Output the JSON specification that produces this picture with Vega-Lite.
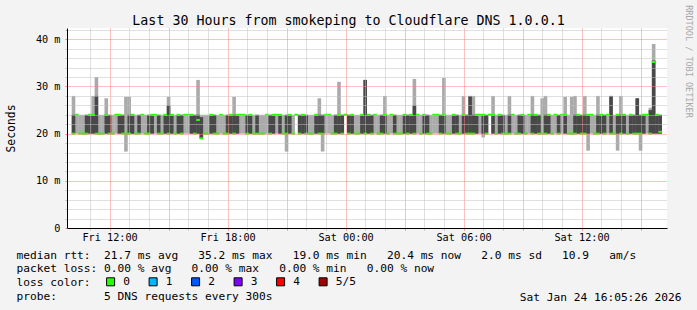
{
"$schema": "https://vega.github.io/schema/vega-lite/v6.json",
"width": 600, "height": 200,
"autosize": {"type": "none"},
"padding": {"left": 67, "top": 28, "right": 30, "bottom": 82},
"background": "#f3f3f3",
"config": {"view": {"stroke": null, "fill": "#ffffff"},
  "axis": {"labelFont": "DejaVu Sans Mono", "titleFont": "DejaVu Sans Mono", "labelColor": "#000000", "titleColor": "#000000", "titleFontWeight": "normal"}},
"data": {"values": [
{"t":"2026-01-23T10:10","lo":20,"q1":20,"md":20,"q3":24,"hi":28,"loss":"0"},
{"t":"2026-01-23T10:20","lo":20,"q1":24,"md":24,"q3":24,"hi":24,"loss":"0"},
{"t":"2026-01-23T10:30","lo":20,"q1":20,"md":20,"q3":20,"hi":24,"loss":"0"},
{"t":"2026-01-23T10:40","lo":20,"q1":20,"md":20,"q3":20,"hi":24,"loss":"0"},
{"t":"2026-01-23T10:50","lo":20,"q1":20,"md":20,"q3":24,"hi":24,"loss":"0"},
{"t":"2026-01-23T11:00","lo":20,"q1":20,"md":24,"q3":24,"hi":24,"loss":"0"},
{"t":"2026-01-23T11:10","lo":20,"q1":20,"md":24,"q3":24,"hi":28,"loss":"0"},
{"t":"2026-01-23T11:20","lo":20,"q1":20,"md":20,"q3":28,"hi":32,"loss":"0"},
{"t":"2026-01-23T11:30","lo":20,"q1":20,"md":20,"q3":20,"hi":24,"loss":"0"},
{"t":"2026-01-23T11:40","lo":20,"q1":20,"md":20,"q3":20,"hi":24,"loss":"0"},
{"t":"2026-01-23T11:50","lo":20,"q1":20,"md":24,"q3":24,"hi":27.5,"loss":"0"},
{"t":"2026-01-23T12:00","lo":20,"q1":20,"md":20,"q3":24,"hi":24,"loss":"0"},
{"t":"2026-01-23T12:10","lo":20,"q1":20,"md":20,"q3":20,"hi":24,"loss":"0"},
{"t":"2026-01-23T12:20","lo":20,"q1":24,"md":24,"q3":24,"hi":24,"loss":"0"},
{"t":"2026-01-23T12:30","lo":20,"q1":20,"md":24,"q3":24,"hi":24,"loss":"0"},
{"t":"2026-01-23T12:40","lo":20,"q1":20,"md":20,"q3":24,"hi":24,"loss":"0"},
{"t":"2026-01-23T12:50","lo":16.2,"q1":20,"md":20,"q3":20,"hi":27.8,"loss":"0"},
{"t":"2026-01-23T13:00","lo":20,"q1":20,"md":20,"q3":24,"hi":27.8,"loss":"0"},
{"t":"2026-01-23T13:10","lo":20,"q1":20,"md":24,"q3":24,"hi":24,"loss":"0"},
{"t":"2026-01-23T13:20","lo":20,"q1":20,"md":20,"q3":20,"hi":24,"loss":"0"},
{"t":"2026-01-23T13:30","lo":20,"q1":20,"md":20,"q3":24,"hi":24,"loss":"0"},
{"t":"2026-01-23T13:40","lo":20,"q1":24,"md":24,"q3":24,"hi":24,"loss":"0"},
{"t":"2026-01-23T13:50","lo":20,"q1":20,"md":20,"q3":20,"hi":24,"loss":"0"},
{"t":"2026-01-23T14:00","lo":20,"q1":20,"md":20,"q3":24,"hi":24,"loss":"0"},
{"t":"2026-01-23T14:10","lo":20,"q1":20,"md":24,"q3":24,"hi":24,"loss":"0"},
{"t":"2026-01-23T14:20","lo":20,"q1":24,"md":24,"q3":24,"hi":24,"loss":"0"},
{"t":"2026-01-23T14:30","lo":20,"q1":20,"md":20,"q3":24,"hi":24,"loss":"0"},
{"t":"2026-01-23T14:40","lo":20,"q1":20,"md":20,"q3":20,"hi":24,"loss":"0"},
{"t":"2026-01-23T14:50","lo":20,"q1":20,"md":24,"q3":24,"hi":24,"loss":"0"},
{"t":"2026-01-23T15:00","lo":20,"q1":20,"md":20,"q3":26,"hi":27.8,"loss":"0"},
{"t":"2026-01-23T15:10","lo":20,"q1":20,"md":24,"q3":24,"hi":24,"loss":"0"},
{"t":"2026-01-23T15:20","lo":20,"q1":20,"md":20,"q3":20,"hi":24,"loss":"0"},
{"t":"2026-01-23T15:30","lo":20,"q1":20,"md":24,"q3":24,"hi":24,"loss":"0"},
{"t":"2026-01-23T15:40","lo":20,"q1":20,"md":20,"q3":24,"hi":24,"loss":"0"},
{"t":"2026-01-23T15:50","lo":20,"q1":24,"md":24,"q3":24,"hi":24,"loss":"0"},
{"t":"2026-01-23T16:00","lo":20,"q1":24,"md":24,"q3":24,"hi":24,"loss":"0"},
{"t":"2026-01-23T16:10","lo":20,"q1":20,"md":24,"q3":24,"hi":24,"loss":"0"},
{"t":"2026-01-23T16:20","lo":20,"q1":20,"md":20,"q3":24,"hi":24,"loss":"0"},
{"t":"2026-01-23T16:30","lo":20,"q1":20,"md":22.9,"q3":24,"hi":31.4,"loss":"0"},
{"t":"2026-01-23T16:40","lo":19,"q1":19,"md":19,"q3":23.5,"hi":24,"loss":"0"},
{"t":"2026-01-23T16:50","lo":20,"q1":20,"md":20,"q3":20,"hi":24,"loss":"0"},
{"t":"2026-01-23T17:00","lo":20,"q1":20,"md":20,"q3":20,"hi":24,"loss":"0"},
{"t":"2026-01-23T17:10","lo":20,"q1":20,"md":24,"q3":24,"hi":24,"loss":"0"},
{"t":"2026-01-23T17:20","lo":20,"q1":20,"md":20,"q3":24,"hi":24,"loss":"0"},
{"t":"2026-01-23T17:30","lo":20,"q1":20,"md":20,"q3":20,"hi":24,"loss":"0"},
{"t":"2026-01-23T17:40","lo":20,"q1":24,"md":24,"q3":24,"hi":24,"loss":"0"},
{"t":"2026-01-23T17:50","lo":20,"q1":20,"md":20,"q3":20,"hi":24,"loss":"0"},
{"t":"2026-01-23T18:00","lo":20,"q1":20,"md":20,"q3":24,"hi":24,"loss":"0"},
{"t":"2026-01-23T18:10","lo":20,"q1":20,"md":24,"q3":24,"hi":24,"loss":"0"},
{"t":"2026-01-23T18:20","lo":20,"q1":20,"md":20,"q3":24,"hi":27.8,"loss":"0"},
{"t":"2026-01-23T18:30","lo":20,"q1":20,"md":24,"q3":24,"hi":24,"loss":"0"},
{"t":"2026-01-23T18:40","lo":20,"q1":24,"md":24,"q3":24,"hi":24,"loss":"0"},
{"t":"2026-01-23T18:50","lo":20,"q1":24,"md":24,"q3":24,"hi":24,"loss":"0"},
{"t":"2026-01-23T19:00","lo":20,"q1":20,"md":20,"q3":24,"hi":24,"loss":"0"},
{"t":"2026-01-23T19:10","lo":20,"q1":20,"md":24,"q3":24,"hi":24,"loss":"0"},
{"t":"2026-01-23T19:20","lo":20,"q1":20,"md":20,"q3":20,"hi":24,"loss":"0"},
{"t":"2026-01-23T19:30","lo":20,"q1":20,"md":20,"q3":24,"hi":24,"loss":"0"},
{"t":"2026-01-23T19:40","lo":20,"q1":20,"md":20,"q3":20,"hi":24,"loss":"0"},
{"t":"2026-01-23T19:50","lo":20,"q1":20,"md":20,"q3":20,"hi":24,"loss":"0"},
{"t":"2026-01-23T20:00","lo":20,"q1":24,"md":24,"q3":24,"hi":24,"loss":"0"},
{"t":"2026-01-23T20:10","lo":20,"q1":20,"md":20,"q3":24,"hi":24,"loss":"0"},
{"t":"2026-01-23T20:20","lo":20,"q1":20,"md":24,"q3":24,"hi":24,"loss":"0"},
{"t":"2026-01-23T20:30","lo":20,"q1":24,"md":24,"q3":24,"hi":24,"loss":"0"},
{"t":"2026-01-23T20:40","lo":20,"q1":20,"md":24,"q3":24,"hi":24,"loss":"0"},
{"t":"2026-01-23T20:50","lo":20,"q1":20,"md":20,"q3":20,"hi":24,"loss":"0"},
{"t":"2026-01-23T21:00","lo":16.2,"q1":20,"md":20,"q3":24,"hi":24,"loss":"0"},
{"t":"2026-01-23T21:10","lo":20,"q1":20,"md":24,"q3":24,"hi":24,"loss":"0"},
{"t":"2026-01-23T21:20","lo":20,"q1":20,"md":20,"q3":20,"hi":24,"loss":"0"},
{"t":"2026-01-23T21:30","lo":23.8,"q1":24,"md":24,"q3":24,"hi":24.2,"loss":"0"},
{"t":"2026-01-23T21:40","lo":20,"q1":20,"md":20,"q3":24,"hi":24,"loss":"0"},
{"t":"2026-01-23T21:50","lo":20,"q1":20,"md":24,"q3":24,"hi":24,"loss":"0"},
{"t":"2026-01-23T22:00","lo":20,"q1":20,"md":20,"q3":24,"hi":24,"loss":"0"},
{"t":"2026-01-23T22:10","lo":20,"q1":20,"md":20,"q3":20,"hi":24,"loss":"0"},
{"t":"2026-01-23T22:20","lo":20,"q1":20,"md":20,"q3":20,"hi":24,"loss":"0"},
{"t":"2026-01-23T22:30","lo":20,"q1":20,"md":24,"q3":24,"hi":24,"loss":"0"},
{"t":"2026-01-23T22:40","lo":20,"q1":20,"md":20,"q3":24,"hi":27.5,"loss":"0"},
{"t":"2026-01-23T22:50","lo":16.2,"q1":20,"md":20,"q3":24,"hi":24,"loss":"0"},
{"t":"2026-01-23T23:00","lo":20,"q1":24,"md":24,"q3":24,"hi":24,"loss":"0"},
{"t":"2026-01-23T23:10","lo":20,"q1":24,"md":24,"q3":24,"hi":24,"loss":"0"},
{"t":"2026-01-23T23:20","lo":20,"q1":20,"md":20,"q3":20,"hi":24,"loss":"0"},
{"t":"2026-01-23T23:30","lo":20,"q1":20,"md":20,"q3":24,"hi":24,"loss":"0"},
{"t":"2026-01-23T23:40","lo":20,"q1":20,"md":24,"q3":24,"hi":31,"loss":"0"},
{"t":"2026-01-23T23:50","lo":20,"q1":20,"md":20,"q3":24,"hi":24,"loss":"0"},
{"t":"2026-01-24T00:00","lo":23.8,"q1":24,"md":24,"q3":24,"hi":24.2,"loss":"0"},
{"t":"2026-01-24T00:10","lo":20,"q1":20,"md":20,"q3":24,"hi":24,"loss":"0"},
{"t":"2026-01-24T00:20","lo":20,"q1":20,"md":24,"q3":24,"hi":24,"loss":"0"},
{"t":"2026-01-24T00:30","lo":20,"q1":20,"md":20,"q3":20,"hi":24,"loss":"0"},
{"t":"2026-01-24T00:40","lo":20,"q1":20,"md":20,"q3":20,"hi":24,"loss":"0"},
{"t":"2026-01-24T00:50","lo":20,"q1":20,"md":24,"q3":24,"hi":24,"loss":"0"},
{"t":"2026-01-24T01:00","lo":20,"q1":20,"md":20,"q3":31.4,"hi":31.4,"loss":"0"},
{"t":"2026-01-24T01:10","lo":20,"q1":20,"md":24,"q3":24,"hi":24,"loss":"0"},
{"t":"2026-01-24T01:20","lo":20,"q1":20,"md":20,"q3":24,"hi":24,"loss":"0"},
{"t":"2026-01-24T01:30","lo":20,"q1":24,"md":24,"q3":24,"hi":24,"loss":"0"},
{"t":"2026-01-24T01:40","lo":20,"q1":20,"md":20,"q3":20,"hi":24,"loss":"0"},
{"t":"2026-01-24T01:50","lo":20,"q1":20,"md":20,"q3":24,"hi":24,"loss":"0"},
{"t":"2026-01-24T02:00","lo":20,"q1":20,"md":24,"q3":24,"hi":28,"loss":"0"},
{"t":"2026-01-24T02:10","lo":20,"q1":20,"md":20,"q3":20,"hi":24,"loss":"0"},
{"t":"2026-01-24T02:20","lo":20,"q1":24,"md":24,"q3":24,"hi":24,"loss":"0"},
{"t":"2026-01-24T02:30","lo":20,"q1":20,"md":20,"q3":24,"hi":24,"loss":"0"},
{"t":"2026-01-24T02:40","lo":20,"q1":20,"md":20,"q3":20,"hi":24,"loss":"0"},
{"t":"2026-01-24T02:50","lo":20,"q1":20,"md":20,"q3":20,"hi":24,"loss":"0"},
{"t":"2026-01-24T03:00","lo":20,"q1":20,"md":24,"q3":24,"hi":24,"loss":"0"},
{"t":"2026-01-24T03:10","lo":20,"q1":20,"md":20,"q3":24,"hi":24,"loss":"0"},
{"t":"2026-01-24T03:20","lo":20,"q1":20,"md":24,"q3":24,"hi":24,"loss":"0"},
{"t":"2026-01-24T03:30","lo":20,"q1":20,"md":20,"q3":26,"hi":31.6,"loss":"0"},
{"t":"2026-01-24T03:40","lo":20,"q1":24,"md":24,"q3":24,"hi":24,"loss":"0"},
{"t":"2026-01-24T03:50","lo":20,"q1":20,"md":20,"q3":20,"hi":24,"loss":"0"},
{"t":"2026-01-24T04:00","lo":20,"q1":20,"md":24,"q3":24,"hi":24,"loss":"0"},
{"t":"2026-01-24T04:10","lo":20,"q1":20,"md":20,"q3":24,"hi":24,"loss":"0"},
{"t":"2026-01-24T04:20","lo":20,"q1":20,"md":20,"q3":20,"hi":24,"loss":"0"},
{"t":"2026-01-24T04:30","lo":20,"q1":24,"md":24,"q3":24,"hi":24,"loss":"0"},
{"t":"2026-01-24T04:40","lo":20,"q1":24,"md":24,"q3":24,"hi":24,"loss":"0"},
{"t":"2026-01-24T04:50","lo":20,"q1":20,"md":20,"q3":24,"hi":24,"loss":"0"},
{"t":"2026-01-24T05:00","lo":20,"q1":20,"md":24,"q3":24,"hi":31.8,"loss":"0"},
{"t":"2026-01-24T05:10","lo":20,"q1":20,"md":20,"q3":20,"hi":24,"loss":"0"},
{"t":"2026-01-24T05:20","lo":20,"q1":20,"md":20,"q3":20,"hi":24,"loss":"0"},
{"t":"2026-01-24T05:30","lo":20,"q1":20,"md":24,"q3":24,"hi":24,"loss":"0"},
{"t":"2026-01-24T05:40","lo":20,"q1":20,"md":20,"q3":24,"hi":24,"loss":"0"},
{"t":"2026-01-24T05:50","lo":20,"q1":20,"md":20,"q3":20,"hi":24,"loss":"0"},
{"t":"2026-01-24T06:00","lo":20,"q1":20,"md":24,"q3":24,"hi":28,"loss":"0"},
{"t":"2026-01-24T06:10","lo":20,"q1":20,"md":20,"q3":24,"hi":24,"loss":"0"},
{"t":"2026-01-24T06:20","lo":20,"q1":20,"md":20,"q3":28,"hi":28,"loss":"0"},
{"t":"2026-01-24T06:30","lo":20,"q1":20,"md":20,"q3":24,"hi":28,"loss":"0"},
{"t":"2026-01-24T06:40","lo":20,"q1":20,"md":24,"q3":24,"hi":24,"loss":"0"},
{"t":"2026-01-24T06:50","lo":20,"q1":24,"md":24,"q3":24,"hi":24,"loss":"0"},
{"t":"2026-01-24T07:00","lo":19.2,"q1":20,"md":24,"q3":24,"hi":24,"loss":"0"},
{"t":"2026-01-24T07:10","lo":20,"q1":20,"md":20,"q3":24,"hi":24,"loss":"0"},
{"t":"2026-01-24T07:20","lo":23.8,"q1":24,"md":24,"q3":24,"hi":24.2,"loss":"0"},
{"t":"2026-01-24T07:30","lo":20,"q1":20,"md":24,"q3":24,"hi":28,"loss":"0"},
{"t":"2026-01-24T07:40","lo":20,"q1":20,"md":20,"q3":20,"hi":24,"loss":"0"},
{"t":"2026-01-24T07:50","lo":20,"q1":20,"md":24,"q3":24,"hi":24,"loss":"0"},
{"t":"2026-01-24T08:00","lo":20,"q1":20,"md":20,"q3":24,"hi":24,"loss":"0"},
{"t":"2026-01-24T08:10","lo":20,"q1":20,"md":20,"q3":20,"hi":24,"loss":"0"},
{"t":"2026-01-24T08:20","lo":20,"q1":20,"md":20,"q3":24,"hi":28,"loss":"0"},
{"t":"2026-01-24T08:30","lo":20,"q1":24,"md":24,"q3":24,"hi":24,"loss":"0"},
{"t":"2026-01-24T08:40","lo":20,"q1":20,"md":20,"q3":20,"hi":24,"loss":"0"},
{"t":"2026-01-24T08:50","lo":20,"q1":20,"md":20,"q3":24,"hi":24,"loss":"0"},
{"t":"2026-01-24T09:00","lo":20,"q1":20,"md":24,"q3":24,"hi":24,"loss":"0"},
{"t":"2026-01-24T09:10","lo":20,"q1":20,"md":20,"q3":20,"hi":24,"loss":"0"},
{"t":"2026-01-24T09:20","lo":20,"q1":24,"md":24,"q3":24,"hi":24,"loss":"0"},
{"t":"2026-01-24T09:30","lo":20,"q1":20,"md":20,"q3":24,"hi":28,"loss":"0"},
{"t":"2026-01-24T09:40","lo":20,"q1":20,"md":24,"q3":24,"hi":24,"loss":"0"},
{"t":"2026-01-24T09:50","lo":20,"q1":20,"md":20,"q3":24,"hi":24,"loss":"0"},
{"t":"2026-01-24T10:00","lo":20,"q1":20,"md":20,"q3":20,"hi":27.5,"loss":"0"},
{"t":"2026-01-24T10:10","lo":20,"q1":20,"md":20,"q3":24,"hi":28,"loss":"0"},
{"t":"2026-01-24T10:20","lo":20,"q1":20,"md":24,"q3":24,"hi":24,"loss":"0"},
{"t":"2026-01-24T10:30","lo":20,"q1":20,"md":20,"q3":20,"hi":24,"loss":"0"},
{"t":"2026-01-24T10:40","lo":20,"q1":24,"md":24,"q3":24,"hi":24,"loss":"0"},
{"t":"2026-01-24T10:50","lo":20,"q1":20,"md":20,"q3":24,"hi":24,"loss":"0"},
{"t":"2026-01-24T11:00","lo":20,"q1":24,"md":24,"q3":24,"hi":24,"loss":"0"},
{"t":"2026-01-24T11:10","lo":20,"q1":20,"md":24,"q3":24,"hi":27.8,"loss":"0"},
{"t":"2026-01-24T11:20","lo":20,"q1":20,"md":20,"q3":20,"hi":24,"loss":"0"},
{"t":"2026-01-24T11:30","lo":20,"q1":20,"md":20,"q3":20,"hi":27.8,"loss":"0"},
{"t":"2026-01-24T11:40","lo":20,"q1":20,"md":20,"q3":24,"hi":28,"loss":"0"},
{"t":"2026-01-24T11:50","lo":20,"q1":20,"md":24,"q3":24,"hi":24,"loss":"0"},
{"t":"2026-01-24T12:00","lo":20,"q1":20,"md":20,"q3":24,"hi":24,"loss":"0"},
{"t":"2026-01-24T12:10","lo":20,"q1":20,"md":20,"q3":24,"hi":28,"loss":"0"},
{"t":"2026-01-24T12:20","lo":16.4,"q1":20,"md":24,"q3":24,"hi":24,"loss":"0"},
{"t":"2026-01-24T12:30","lo":20,"q1":24,"md":24,"q3":24,"hi":24,"loss":"0"},
{"t":"2026-01-24T12:40","lo":20,"q1":20,"md":20,"q3":20,"hi":24,"loss":"0"},
{"t":"2026-01-24T12:50","lo":20,"q1":20,"md":20,"q3":24,"hi":28,"loss":"0"},
{"t":"2026-01-24T13:00","lo":20,"q1":20,"md":24,"q3":24,"hi":24,"loss":"0"},
{"t":"2026-01-24T13:10","lo":20,"q1":20,"md":20,"q3":24,"hi":24,"loss":"0"},
{"t":"2026-01-24T13:20","lo":20,"q1":24,"md":24,"q3":24,"hi":24,"loss":"0"},
{"t":"2026-01-24T13:30","lo":20,"q1":20,"md":20,"q3":28,"hi":28,"loss":"0"},
{"t":"2026-01-24T13:40","lo":20,"q1":20,"md":20,"q3":20,"hi":24,"loss":"0"},
{"t":"2026-01-24T13:50","lo":16.4,"q1":20,"md":24,"q3":24,"hi":24,"loss":"0"},
{"t":"2026-01-24T14:00","lo":20,"q1":20,"md":20,"q3":24,"hi":28,"loss":"0"},
{"t":"2026-01-24T14:10","lo":20,"q1":20,"md":24,"q3":24,"hi":24,"loss":"0"},
{"t":"2026-01-24T14:20","lo":20,"q1":20,"md":20,"q3":20,"hi":24,"loss":"0"},
{"t":"2026-01-24T14:30","lo":20,"q1":20,"md":24,"q3":24,"hi":24,"loss":"0"},
{"t":"2026-01-24T14:40","lo":20,"q1":20,"md":20,"q3":24,"hi":24,"loss":"0"},
{"t":"2026-01-24T14:50","lo":20,"q1":20,"md":20,"q3":27.5,"hi":27.5,"loss":"0"},
{"t":"2026-01-24T15:00","lo":16.4,"q1":20,"md":20,"q3":24,"hi":24,"loss":"0"},
{"t":"2026-01-24T15:10","lo":20,"q1":20,"md":24,"q3":24,"hi":24,"loss":"0"},
{"t":"2026-01-24T15:20","lo":20,"q1":24,"md":24,"q3":24,"hi":24,"loss":"0"},
{"t":"2026-01-24T15:30","lo":20,"q1":20,"md":20,"q3":25,"hi":25.5,"loss":"0"},
{"t":"2026-01-24T15:40","lo":20,"q1":20,"md":35.2,"q3":35.5,"hi":39,"loss":"0"},
{"t":"2026-01-24T15:50","lo":20,"q1":20,"md":24,"q3":24,"hi":24,"loss":"0"},
{"t":"2026-01-24T16:00","lo":20,"q1":20,"md":20.4,"q3":24,"hi":24,"loss":"0"}
]},
"layer": [
{"mark": {"type": "bar", "width": 3.6, "color": "#aaaaaa"},
 "encoding": {
  "x": {"field": "t", "type": "temporal",
   "scale": {"domain": [{"year": 2026, "month": 1, "date": 23, "hours": 10, "minutes": 5, "seconds": 26}, {"year": 2026, "month": 1, "date": 24, "hours": 16, "minutes": 5, "seconds": 26}]},
   "axis": {"orient": "bottom",
     "values": [{"year": 2026, "month": 1, "date": 23, "hours": 11}, {"year": 2026, "month": 1, "date": 23, "hours": 13}, {"year": 2026, "month": 1, "date": 23, "hours": 14}, {"year": 2026, "month": 1, "date": 23, "hours": 16}, {"year": 2026, "month": 1, "date": 23, "hours": 17}, {"year": 2026, "month": 1, "date": 23, "hours": 19}, {"year": 2026, "month": 1, "date": 23, "hours": 20}, {"year": 2026, "month": 1, "date": 23, "hours": 22}, {"year": 2026, "month": 1, "date": 23, "hours": 23}, {"year": 2026, "month": 1, "date": 24, "hours": 1}, {"year": 2026, "month": 1, "date": 24, "hours": 2}, {"year": 2026, "month": 1, "date": 24, "hours": 4}, {"year": 2026, "month": 1, "date": 24, "hours": 5}, {"year": 2026, "month": 1, "date": 24, "hours": 7}, {"year": 2026, "month": 1, "date": 24, "hours": 8}, {"year": 2026, "month": 1, "date": 24, "hours": 10}, {"year": 2026, "month": 1, "date": 24, "hours": 11}, {"year": 2026, "month": 1, "date": 24, "hours": 13}, {"year": 2026, "month": 1, "date": 24, "hours": 14}],
     "grid": true, "gridColor": "#c0c0c0", "gridDash": [1, 1],
     "labels": false, "domain": false, "ticks": true, "tickSize": 2, "tickColor": "#c0c0c0", "title": null, "zindex": 1}},
  "y": {"field": "lo", "type": "quantitative", "scale": {"domain": [0, 42.4], "nice": false},
   "axis": {"orient": "left", "values": [2, 4, 6, 8, 12, 14, 16, 18, 22, 24, 26, 28, 32, 34, 36, 38, 42], "grid": true, "gridColor": "#c0c0c0", "gridDash": [1, 1],
     "labels": false, "domain": false, "ticks": true, "tickSize": 2, "tickColor": "#c0c0c0",
     "title": "Sat Jan 24 16:05:26 2026", "titleAngle": 0, "titleX": 614, "titleY": 272, "titleAlign": "right", "titleBaseline": "alphabetic", "titleFontSize": 11.2, "zindex": 1}},
  "y2": {"field": "hi"}
 }},
{"mark": {"type": "bar", "width": 3.6, "color": "#484848"},
 "encoding": {
  "x": {"field": "t", "type": "temporal",
   "scale": {"domain": [{"year": 2026, "month": 1, "date": 23, "hours": 10, "minutes": 5, "seconds": 26}, {"year": 2026, "month": 1, "date": 24, "hours": 16, "minutes": 5, "seconds": 26}]},
   "axis": {"orient": "bottom",
     "values": [{"year": 2026, "month": 1, "date": 23, "hours": 12}, {"year": 2026, "month": 1, "date": 23, "hours": 15}, {"year": 2026, "month": 1, "date": 23, "hours": 18}, {"year": 2026, "month": 1, "date": 23, "hours": 21}, {"year": 2026, "month": 1, "date": 24, "hours": 0}, {"year": 2026, "month": 1, "date": 24, "hours": 3}, {"year": 2026, "month": 1, "date": 24, "hours": 6}, {"year": 2026, "month": 1, "date": 24, "hours": 9}, {"year": 2026, "month": 1, "date": 24, "hours": 12}, {"year": 2026, "month": 1, "date": 24, "hours": 15}],
     "grid": true, "gridColor": "#ff8080", "gridDash": [1, 1],
     "labelExpr": "hours(datum.value) % 6 == 0 ? timeFormat(datum.value, '%a %H:%M') : ''",
     "labelFontSize": 10.2, "labelPadding": 2, "labelBaseline": "top", "labelOverlap": false, "labelFlush": false,
     "domain": true, "domainColor": "#000000", "ticks": true, "tickSize": 2, "tickColor": "#ff8080",
     "title": ["median rtt:\u00a0\u00a021.7 ms avg\u00a0\u00a0\u00a035.2 ms max\u00a0\u00a0\u00a019.0 ms min\u00a0\u00a0\u00a020.4 ms now\u00a0\u00a0\u00a02.0 ms sd\u00a0\u00a0\u00a010.9\u00a0\u00a0\u00a0am/s", "packet loss: 0.00 % avg\u00a0\u00a0\u00a00.00 % max\u00a0\u00a0\u00a00.00 % min\u00a0\u00a0\u00a00.00 % now", "loss color:", "probe:\u00a0\u00a0\u00a0\u00a0\u00a0\u00a0\u00a05 DNS requests every 300s"],
     "titleX": -51, "titleY": 30, "titleAlign": "left", "titleBaseline": "alphabetic", "titleFontSize": 11.2, "titleLineHeight": 13.9, "zindex": 1}},
  "y": {"field": "q1", "type": "quantitative", "scale": {"domain": [0, 42.4], "nice": false},
   "axis": {"orient": "left", "values": [0, 10, 20, 30, 40], "labelExpr": "datum.value == 0 ? '0' : datum.value + ' m'",
     "grid": true, "gridColor": "#ff8080", "gridDash": [1, 1],
     "labelFontSize": 10.2, "labelPadding": 5, "domain": true, "domainColor": "#000000", "ticks": true, "tickSize": 2, "tickColor": "#ff8080",
     "title": "Seconds", "titleFontSize": 11.4, "titleX": -56, "titleY": 100, "titleAngle": -90, "titleAlign": "center", "titleBaseline": "middle", "zindex": 1}},
  "y2": {"field": "q3"}
 }},
{"mark": {"type": "tick", "orient": "horizontal", "thickness": 2, "size": 3.6, "opacity": 1},
 "encoding": {
  "x": {"field": "t", "type": "temporal",
   "scale": {"domain": [{"year": 2026, "month": 1, "date": 23, "hours": 10, "minutes": 5, "seconds": 26}, {"year": 2026, "month": 1, "date": 24, "hours": 16, "minutes": 5, "seconds": 26}]},
   "axis": {"orient": "top", "grid": false, "labels": false, "ticks": false, "domain": false,
     "title": "Last 30 Hours from smokeping to Cloudflare DNS 1.0.0.1", "titleX": 281, "titleY": -4, "titleAlign": "center", "titleBaseline": "alphabetic", "titleFontSize": 13.3}},
  "y": {"field": "md", "type": "quantitative", "scale": {"domain": [0, 42.4], "nice": false},
   "axis": {"orient": "right", "grid": false, "labels": false, "ticks": false, "domain": false,
     "title": "RRDTOOL / TOBI OETIKER", "titleAngle": 90, "titleX": 21, "titleY": 33, "titleAlign": "center", "titleBaseline": "middle", "titleFontSize": 8.5, "titleColor": "#a8a8a8"}},
  "color": {"field": "loss", "type": "nominal",
   "scale": {"domain": ["0", "1", "2", "3", "4", "5/5"], "range": ["#26ff00", "#00b8ff", "#0059ff", "#7e00ff", "#ff0000", "#a10000"]},
   "legend": {"orient": "none", "legendX": 38, "legendY": 248, "direction": "horizontal", "title": null, "padding": 0,
     "symbolType": "square", "symbolSize": 64, "symbolStrokeColor": "#000000", "symbolStrokeWidth": 1, "symbolOpacity": 1,
     "labelFont": "DejaVu Sans Mono", "labelFontSize": 11.2, "labelColor": "#000000", "labelOffset": 7, "columnPadding": 16.5}}
 }}
],
"resolve": {"axis": {"x": "independent", "y": "independent"}}
}
